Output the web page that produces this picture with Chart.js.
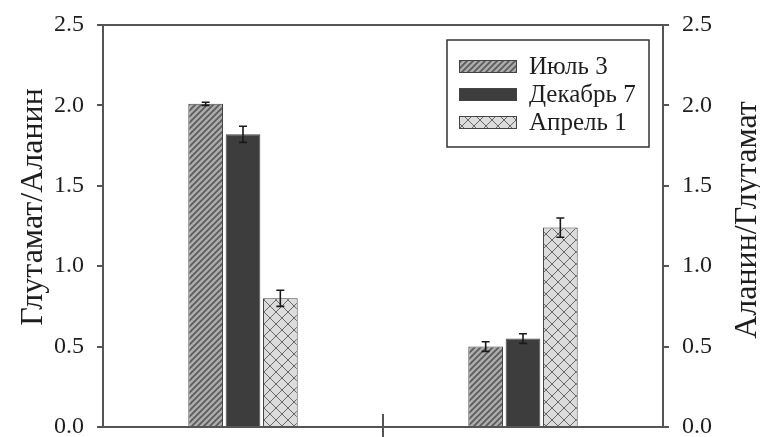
<!DOCTYPE html>
<html>
<head>
<meta charset="utf-8">
<script src="https://cdn.jsdelivr.net/npm/chart.js@4.4.1/dist/chart.umd.min.js"></script>
<style>
  html, body { margin: 0; padding: 0; background: #ffffff; }
  #wrap { width: 760px; height: 437px; }
</style>
</head>
<body>
<div id="wrap"><canvas id="c" width="760" height="437"></canvas></div>
<script>
// Two groups of bars; the left group is read on the left axis (Глутамат/Аланин),
// the right group on the right axis (Аланин/Глутамат).
const categories = ['Глутамат/Аланин', 'Аланин/Глутамат'];
const seriesNames = ['Июль 3', 'Декабрь 7', 'Апрель 1'];

const julyValues = [2.01, 0.50];
const julyErrors = [0.01, 0.03];
const decemberValues = [1.82, 0.55];
const decemberErrors = [0.05, 0.03];
const aprilValues = [0.80, 1.24];
const aprilErrors = [0.05, 0.06];

const yTicks = [0.0, 0.5, 1.0, 1.5, 2.0, 2.5];
const leftTitle = 'Глутамат/Аланин';
const rightTitle = 'Аланин/Глутамат';

const SERIF = '"Liberation Serif", "DejaVu Serif", serif';
const INK = '#1e1e1e';
const AXIS = '#555555';

// ---- fill patterns ----
function hatchPattern() {
  const s = 6;
  const cv = document.createElement('canvas');
  cv.width = s; cv.height = s;
  const g = cv.getContext('2d');
  g.fillStyle = '#acacac';
  g.fillRect(0, 0, s, s);
  g.strokeStyle = '#5a5a5a';
  g.lineWidth = 1.7;
  g.beginPath();
  g.moveTo(-1, s + 1); g.lineTo(s + 1, -1);
  g.moveTo(-1, 1); g.lineTo(1, -1);
  g.moveTo(s - 1, s + 1); g.lineTo(s + 1, s - 1);
  g.stroke();
  return g.createPattern(cv, 'repeat');
}

function latticePattern() {
  const s = 12;
  const cv = document.createElement('canvas');
  cv.width = s; cv.height = s;
  const g = cv.getContext('2d');
  g.fillStyle = '#dcdcdc';
  g.fillRect(0, 0, s, s);
  g.strokeStyle = '#666666';
  g.lineWidth = 1;
  g.beginPath();
  g.moveTo(0, 0); g.lineTo(s, s);
  g.moveTo(0, s); g.lineTo(s, 0);
  g.stroke();
  return g.createPattern(cv, 'repeat');
}

const fills = [hatchPattern(), '#3d3d3d', latticePattern()];
const errors = [julyErrors, decemberErrors, aprilErrors];

// ---- error bars ----
const errorBarPlugin = {
  id: 'errorBars',
  afterDatasetsDraw(chart) {
    const ctx = chart.ctx;
    const y = chart.scales.y;
    ctx.save();
    ctx.strokeStyle = '#1a1a1a';
    ctx.lineWidth = 1.6;
    chart.data.datasets.forEach((ds, i) => {
      const meta = chart.getDatasetMeta(i);
      meta.data.forEach((bar, j) => {
        const v = ds.data[j];
        const e = errors[i][j];
        const top = y.getPixelForValue(v + e);
        const bot = y.getPixelForValue(v - e);
        const cap = 4;
        ctx.beginPath();
        ctx.moveTo(bar.x, top); ctx.lineTo(bar.x, bot);
        ctx.moveTo(bar.x - cap, top); ctx.lineTo(bar.x + cap, top);
        ctx.moveTo(bar.x - cap, bot); ctx.lineTo(bar.x + cap, bot);
        ctx.stroke();
      });
    });
    ctx.restore();
  }
};

// ---- frame, divider tick, axis titles and legend ----
const decorPlugin = {
  id: 'decor',
  afterDraw(chart) {
    const ctx = chart.ctx;
    const a = chart.chartArea;
    const x = chart.scales.x;
    ctx.save();

    // top frame line
    ctx.strokeStyle = AXIS;
    ctx.lineWidth = 2;
    ctx.beginPath();
    ctx.moveTo(a.left, a.top);
    ctx.lineTo(a.right, a.top);
    ctx.stroke();

    // divider tick between the two groups
    const mid = Math.round(x.getPixelForValue(0.5));
    ctx.beginPath();
    ctx.moveTo(mid, a.bottom - 13);
    ctx.lineTo(mid, chart.height);
    ctx.stroke();

    // axis titles, both reading bottom to top
    ctx.fillStyle = INK;
    ctx.font = '32px ' + SERIF;
    ctx.textAlign = 'center';
    ctx.textBaseline = 'alphabetic';
    ctx.save();
    ctx.translate(42, 207);
    ctx.rotate(-Math.PI / 2);
    ctx.fillText(leftTitle, 0, 0);
    ctx.restore();
    ctx.save();
    ctx.translate(756, 220);
    ctx.rotate(-Math.PI / 2);
    ctx.fillText(rightTitle, 0, 0);
    ctx.restore();

    // legend box
    const bx = 447, by = 40, bw = 202, bh = 107;
    ctx.strokeStyle = '#333333';
    ctx.lineWidth = 1.5;
    ctx.strokeRect(bx, by, bw, bh);
    ctx.font = '25px ' + SERIF;
    ctx.textAlign = 'left';
    ctx.textBaseline = 'middle';
    const rows = [66, 94, 122];
    chart.data.datasets.forEach((ds, i) => {
      const cy = rows[i];
      ctx.fillStyle = ds.backgroundColor;
      ctx.fillRect(459, cy - 6, 57, 12);
      ctx.strokeStyle = '#444444';
      ctx.lineWidth = 1;
      ctx.strokeRect(459.5, cy - 5.5, 57, 12);
      ctx.fillStyle = INK;
      ctx.fillText(ds.label, 529, cy + 1);
    });
    ctx.restore();
  }
};

function fixedTicks(scale) {
  scale.ticks = yTicks.map(v => ({ value: v }));
}

// keep the plot box fixed: no extra room reserved for half-height end labels
function fixWidth(w) {
  return s => {
    s.width = w;
    s.paddingTop = 0;
    s.paddingBottom = 0;
  };
}

const yAxisCommon = {
  type: 'linear',
  min: 0,
  max: 2.5,
  afterBuildTicks: fixedTicks,
  ticks: {
    callback: v => Number(v).toFixed(1),
    font: { family: SERIF, size: 24 },
    color: INK,
    padding: 13
  },
  grid: {
    drawOnChartArea: false,
    drawTicks: true,
    tickLength: 6,
    color: AXIS,
    lineWidth: 2
  },
  border: { display: true, color: AXIS, width: 2 }
};

new Chart(document.getElementById('c'), {
  type: 'bar',
  data: {
    labels: categories,
    datasets: [
      { label: seriesNames[0], data: julyValues, backgroundColor: fills[0] },
      { label: seriesNames[1], data: decemberValues, backgroundColor: fills[1] },
      { label: seriesNames[2], data: aprilValues, backgroundColor: fills[2] }
    ]
  },
  options: {
    responsive: false,
    animation: false,
    devicePixelRatio: 1,
    layout: { padding: { top: 25, left: 0, right: 0, bottom: 0 } },
    datasets: {
      bar: {
        categoryPercentage: 0.4,
        barPercentage: 0.93,
        borderColor: '#444444',
        borderWidth: 1
      }
    },
    plugins: {
      legend: { display: false },
      tooltip: { enabled: false },
      title: { display: false }
    },
    scales: {
      x: {
        type: 'category',
        ticks: { display: false },
        grid: { display: false },
        border: { display: true, color: AXIS, width: 2 },
        afterFit: s => { s.height = 10; s.paddingLeft = 0; s.paddingRight = 0; }
      },
      y: Object.assign({}, yAxisCommon, {
        position: 'left',
        afterFit: fixWidth(103)
      }),
      y2: Object.assign({}, yAxisCommon, {
        position: 'right',
        afterFit: fixWidth(97)
      })
    }
  },
  plugins: [errorBarPlugin, decorPlugin]
});
</script>
</body>
</html>
